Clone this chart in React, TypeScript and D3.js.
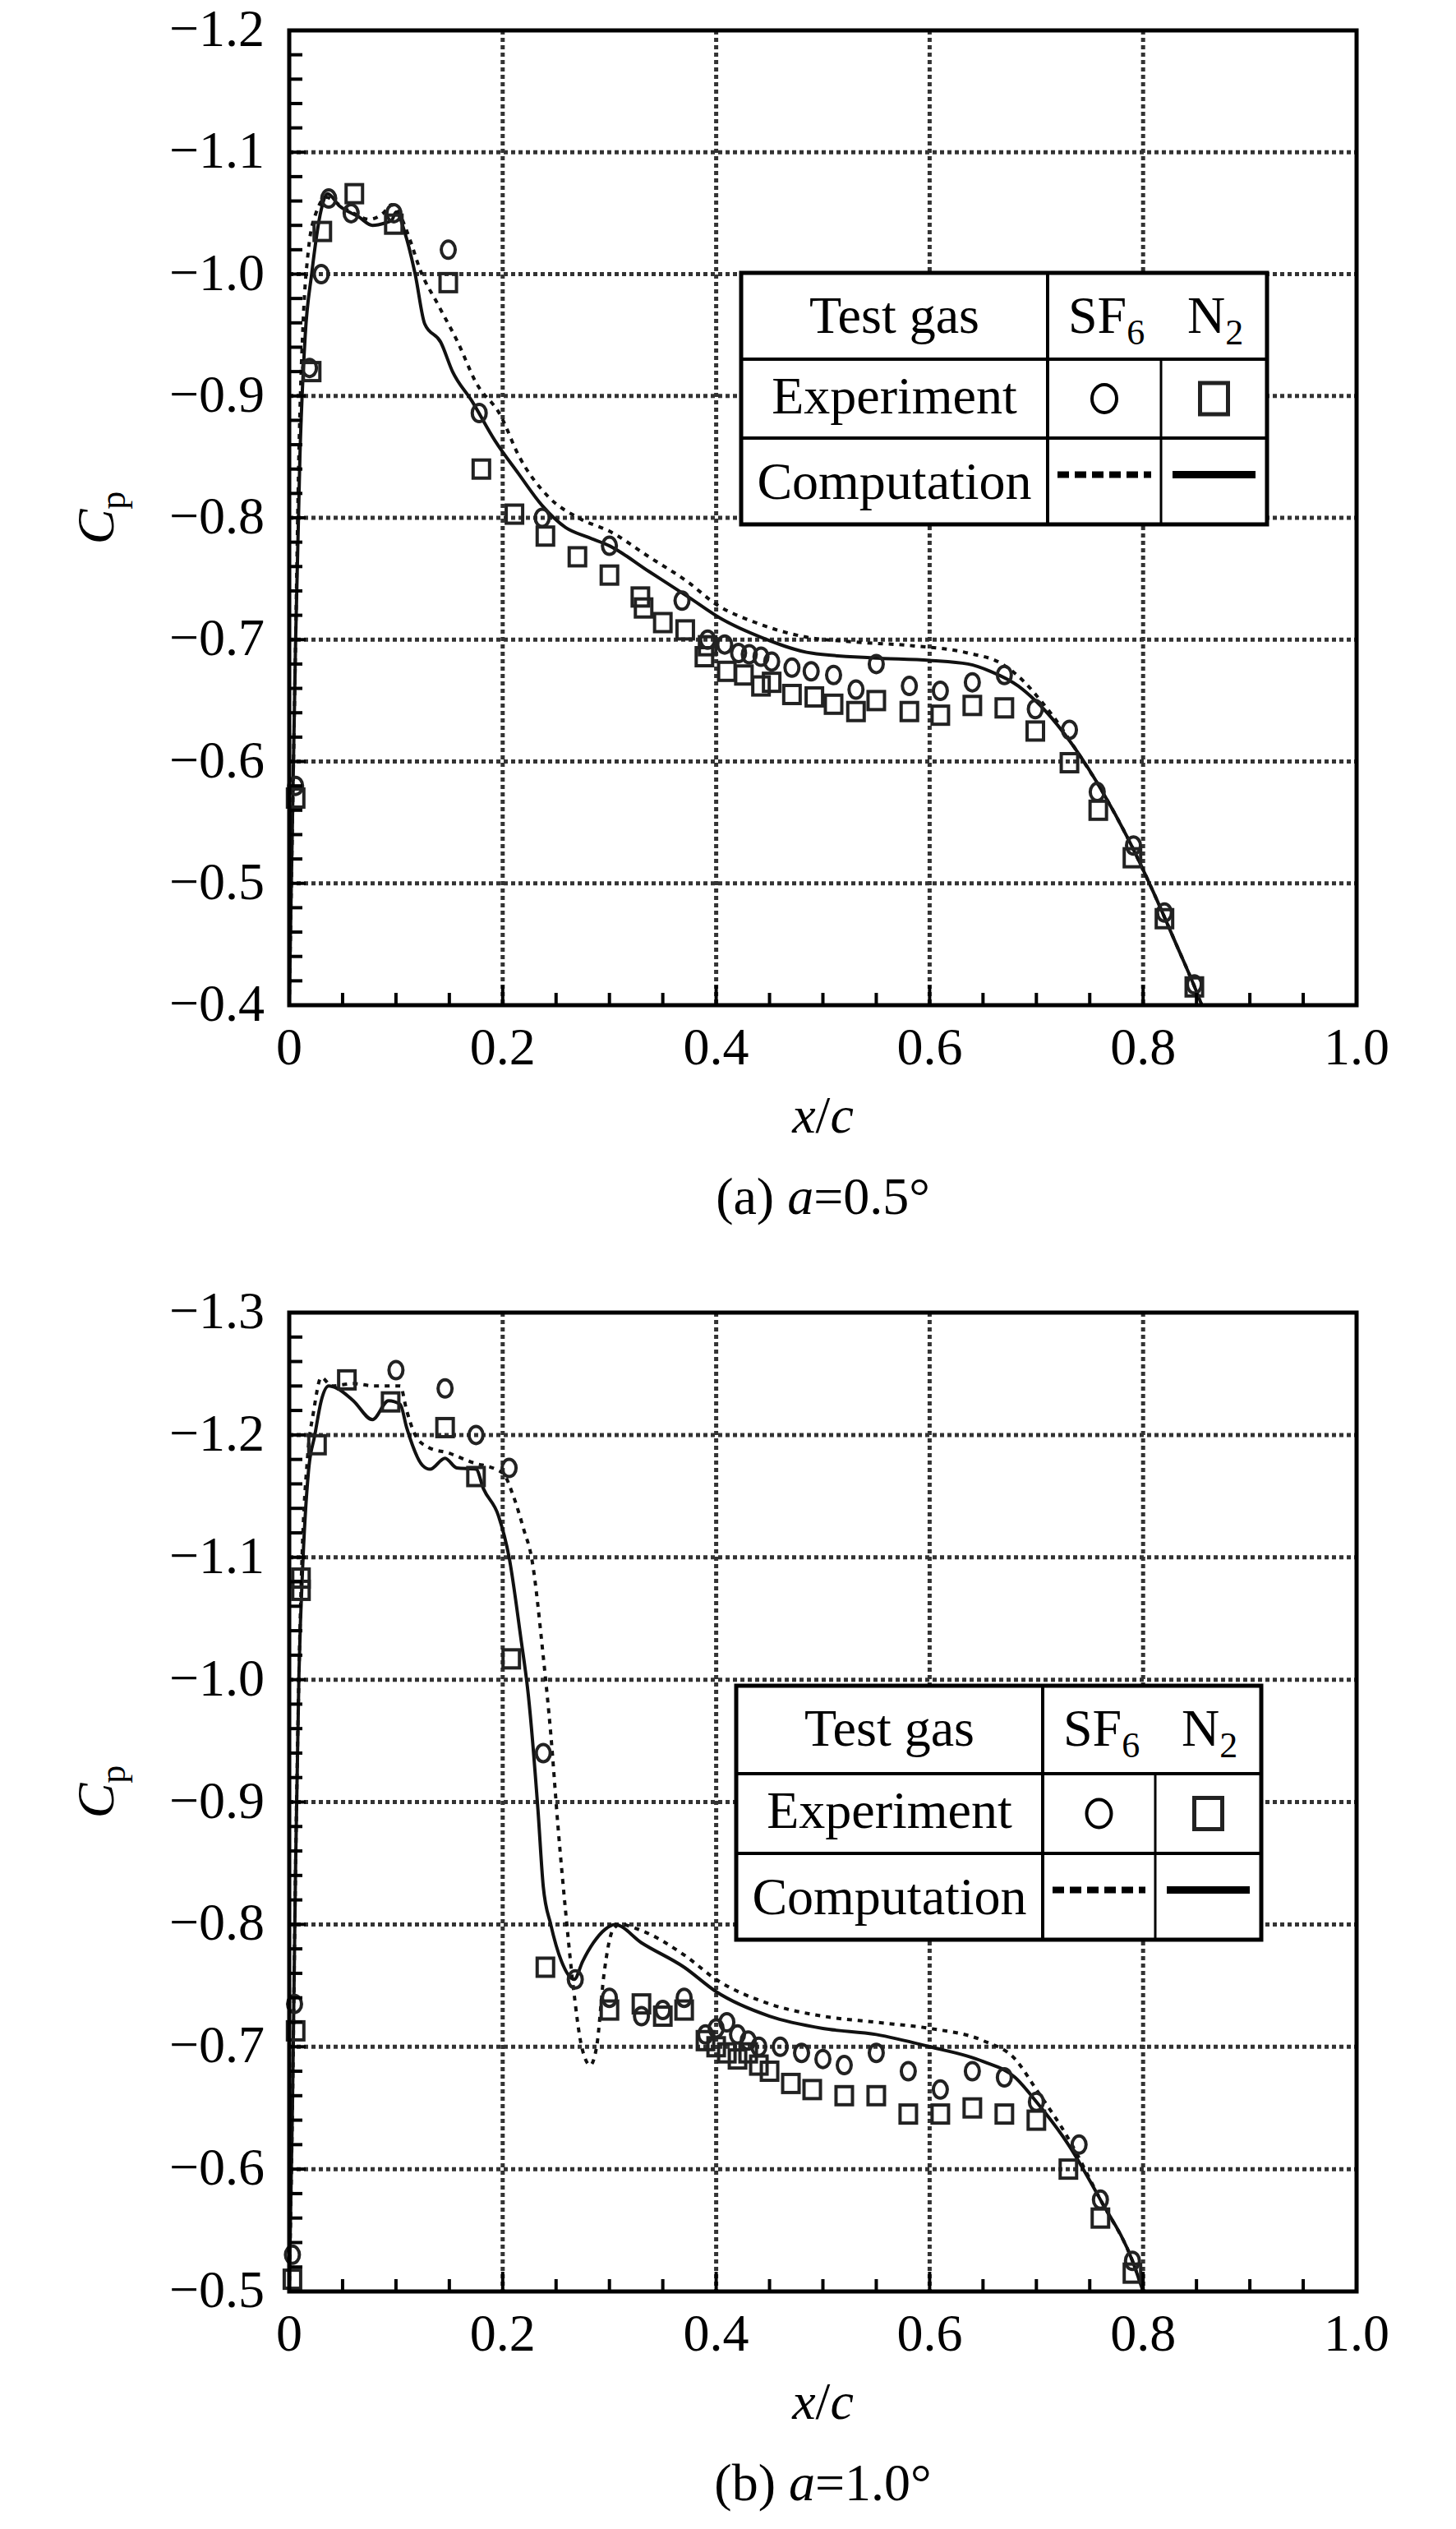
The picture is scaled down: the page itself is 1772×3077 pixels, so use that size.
import * as d3 from 'd3';
import React from 'react';

type Pt = [number, number];

// ---------- tick labels ----------
const xTickValues = [0, 0.2, 0.4, 0.6, 0.8, 1.0];
const xTickLabels = ['0', '0.2', '0.4', '0.6', '0.8', '1.0'];
const yTicksA = [-1.2, -1.1, -1.0, -0.9, -0.8, -0.7, -0.6, -0.5, -0.4];
const yTicksB = [-1.3, -1.2, -1.1, -1.0, -0.9, -0.8, -0.7, -0.6, -0.5];

// ---------- panel (a) a = 0.5 deg ----------
const sf6CompA: Pt[] = [
   [0.0, -0.4], [0.003, -0.55], [0.006, -0.7], [0.009, -0.85], [0.013, -0.96], [0.018, -1.02],
   [0.025, -1.05], [0.035, -1.063], [0.045, -1.058], [0.06, -1.05], [0.075, -1.045], [0.088, -1.05],
   [0.096, -1.057], [0.104, -1.048], [0.114, -1.026], [0.122, -1.005], [0.14, -0.974], [0.158, -0.944],
   [0.175, -0.911], [0.198, -0.884], [0.215, -0.851], [0.242, -0.818], [0.273, -0.799], [0.3, -0.789],
   [0.337, -0.768], [0.374, -0.747], [0.4, -0.729], [0.437, -0.714], [0.479, -0.703], [0.531, -0.698],
   [0.584, -0.695], [0.636, -0.689], [0.668, -0.68], [0.689, -0.665], [0.704, -0.65], [0.72, -0.632],
   [0.736, -0.611], [0.762, -0.575], [0.788, -0.533], [0.809, -0.494], [0.83, -0.452], [0.851, -0.409],
   [0.855, -0.4],
];
const n2CompA: Pt[] = [
   [0.0, -0.4], [0.003, -0.55], [0.006, -0.7], [0.01, -0.85], [0.015, -0.95], [0.021, -1.0],
   [0.03, -1.053], [0.036, -1.066], [0.047, -1.056], [0.065, -1.047], [0.078, -1.04], [0.09, -1.042],
   [0.096, -1.044], [0.1, -1.051], [0.109, -1.032], [0.118, -1.0], [0.127, -0.959], [0.142, -0.944],
   [0.153, -0.92], [0.171, -0.896], [0.193, -0.863], [0.215, -0.836], [0.237, -0.81], [0.259, -0.792],
   [0.28, -0.784], [0.3, -0.777], [0.337, -0.756], [0.374, -0.735], [0.405, -0.717], [0.442, -0.702],
   [0.489, -0.689], [0.547, -0.685], [0.6, -0.683], [0.636, -0.68], [0.657, -0.674], [0.683, -0.662],
   [0.699, -0.65], [0.715, -0.635], [0.736, -0.611], [0.762, -0.575], [0.788, -0.533], [0.809, -0.494],
   [0.83, -0.452], [0.851, -0.409], [0.855, -0.4],
];
const sf6ExpA: Pt[] = [
   [0.006, -0.58], [0.019, -0.923], [0.03, -1.0], [0.037, -1.062], [0.058, -1.05], [0.098, -1.05],
   [0.149, -1.02], [0.178, -0.886], [0.237, -0.8], [0.3, -0.777], [0.368, -0.732], [0.392, -0.7],
   [0.408, -0.696], [0.421, -0.689], [0.431, -0.688], [0.442, -0.686], [0.452, -0.682], [0.471, -0.677],
   [0.489, -0.674], [0.51, -0.671], [0.531, -0.659], [0.55, -0.68], [0.581, -0.662], [0.61, -0.658],
   [0.64, -0.665], [0.67, -0.671], [0.699, -0.643], [0.731, -0.626], [0.757, -0.575], [0.791, -0.531],
   [0.82, -0.476], [0.848, -0.417],
];
const n2ExpA: Pt[] = [
   [0.006, -0.57], [0.021, -0.92], [0.031, -1.035], [0.061, -1.066], [0.098, -1.041], [0.149, -0.993],
   [0.18, -0.84], [0.211, -0.803], [0.24, -0.785], [0.27, -0.768], [0.3, -0.753], [0.329, -0.735],
   [0.332, -0.726], [0.35, -0.714], [0.371, -0.708], [0.389, -0.686], [0.392, -0.695], [0.41, -0.674],
   [0.426, -0.671], [0.442, -0.662], [0.452, -0.665], [0.471, -0.655], [0.492, -0.653], [0.51, -0.647],
   [0.531, -0.641], [0.55, -0.65], [0.581, -0.641], [0.61, -0.638], [0.64, -0.646], [0.67, -0.644],
   [0.699, -0.625], [0.731, -0.599], [0.758, -0.56], [0.79, -0.521], [0.82, -0.471], [0.848, -0.415],
];

// ---------- panel (b) a = 1.0 deg ----------
const sf6CompB: Pt[] = [
   [0.0, -0.5], [0.003, -0.65], [0.006, -0.85], [0.009, -1.0], [0.012, -1.1], [0.017, -1.18],
   [0.023, -1.22], [0.03, -1.247], [0.04, -1.24], [0.06, -1.242], [0.08, -1.24], [0.104, -1.24],
   [0.11, -1.22], [0.118, -1.2], [0.13, -1.19], [0.15, -1.185], [0.17, -1.178], [0.2, -1.169],
   [0.21, -1.15], [0.22, -1.122], [0.227, -1.1], [0.238, -1.019], [0.245, -0.956], [0.252, -0.878],
   [0.259, -0.81], [0.266, -0.75], [0.274, -0.7], [0.282, -0.685], [0.288, -0.7], [0.295, -0.76],
   [0.303, -0.795], [0.31, -0.8], [0.33, -0.795], [0.37, -0.775], [0.4, -0.755], [0.45, -0.735],
   [0.5, -0.725], [0.55, -0.72], [0.6, -0.715], [0.65, -0.705], [0.68, -0.69], [0.7, -0.665],
   [0.73, -0.625], [0.76, -0.575], [0.79, -0.525], [0.8, -0.5],
];
const n2CompB: Pt[] = [
   [0.0, -0.5], [0.003, -0.65], [0.006, -0.85], [0.009, -1.0], [0.013, -1.1], [0.018, -1.17],
   [0.024, -1.2], [0.03, -1.228], [0.037, -1.24], [0.045, -1.238], [0.06, -1.228], [0.078, -1.2125],
   [0.093, -1.228], [0.104, -1.225], [0.11, -1.206], [0.125, -1.175], [0.132, -1.172], [0.146, -1.181],
   [0.157, -1.173], [0.175, -1.172], [0.182, -1.156], [0.196, -1.134], [0.206, -1.1], [0.217, -1.034],
   [0.224, -0.9875], [0.233, -0.894], [0.238, -0.831], [0.245, -0.8], [0.255, -0.77], [0.267, -0.755],
   [0.275, -0.77], [0.285, -0.785], [0.296, -0.796], [0.305, -0.8], [0.33, -0.785], [0.37, -0.765],
   [0.4, -0.745], [0.45, -0.725], [0.5, -0.715], [0.55, -0.71], [0.6, -0.7], [0.65, -0.688],
   [0.68, -0.675], [0.7, -0.655], [0.73, -0.62], [0.76, -0.575], [0.79, -0.525], [0.8, -0.5],
];
const sf6ExpB: Pt[] = [
   [0.003, -0.53], [0.005, -0.735], [0.1, -1.253], [0.146, -1.238], [0.175, -1.2], [0.206, -1.173],
   [0.238, -0.94], [0.268, -0.755], [0.3, -0.74], [0.33, -0.725], [0.35, -0.73], [0.37, -0.74],
   [0.39, -0.71], [0.4, -0.715], [0.41, -0.72], [0.42, -0.71], [0.43, -0.705], [0.44, -0.7],
   [0.46, -0.7], [0.48, -0.695], [0.5, -0.69], [0.52, -0.685], [0.55, -0.695], [0.58, -0.68],
   [0.61, -0.665], [0.64, -0.68], [0.67, -0.675], [0.7, -0.655], [0.74, -0.62], [0.76, -0.575],
   [0.79, -0.525],
];
const n2ExpB: Pt[] = [
   [0.003, -0.51], [0.006, -0.713], [0.011, -1.083], [0.011, -1.073], [0.026, -1.192], [0.054, -1.245],
   [0.095, -1.227], [0.146, -1.206], [0.175, -1.166], [0.208, -1.017], [0.24, -0.765], [0.3, -0.73],
   [0.33, -0.735], [0.35, -0.725], [0.37, -0.73], [0.39, -0.705], [0.4, -0.7], [0.41, -0.695],
   [0.42, -0.69], [0.43, -0.695], [0.44, -0.685], [0.45, -0.68], [0.47, -0.67], [0.49, -0.665],
   [0.52, -0.66], [0.55, -0.66], [0.58, -0.645], [0.61, -0.645], [0.64, -0.65], [0.67, -0.645],
   [0.7, -0.64], [0.73, -0.6], [0.76, -0.56], [0.79, -0.515],
];

const FONT = '"Liberation Serif", "Times New Roman", serif';
const FS = 64;

interface LegendBox {
   left: number;
   right: number;
   rows: number[]; // four horizontal lines
   col1: number;
   col2: number;
}

interface PanelProps {
   id: string;
   top: number;
   bottom: number;
   yTicks: number[];
   caption: string;
   angle: string;
   cpY: number;
   sf6Comp: Pt[];
   n2Comp: Pt[];
   sf6Exp: Pt[];
   n2Exp: Pt[];
   legend: LegendBox;
}

const LEFT = 352;
const RIGHT = 1651;

const Legend = ({ box }: { box: LegendBox }) => {
   const [r0, r1, r2, r3] = box.rows;
   const c0 = (box.left + box.col1) / 2;
   const cA = (box.col1 + box.col2) / 2;
   const cB = (box.col2 + box.right) / 2;
   const m1 = (r1 + r2) / 2;
   const m2 = (r2 + r3) / 2;
   return (
      <g fontFamily={FONT} fontSize={FS}>
         <rect x={box.left} y={r0} width={box.right - box.left} height={r3 - r0} fill="#fff" stroke="#000" strokeWidth={5} />
         <line x1={box.left} x2={box.right} y1={r1} y2={r1} stroke="#000" strokeWidth={4} />
         <line x1={box.left} x2={box.right} y1={r2} y2={r2} stroke="#000" strokeWidth={4} />
         <line x1={box.col1} x2={box.col1} y1={r0} y2={r3} stroke="#000" strokeWidth={4} />
         <line x1={box.col2} x2={box.col2} y1={r1} y2={r3} stroke="#000" strokeWidth={3} />
         <text x={c0} y={r0 + 73} textAnchor="middle">Test gas</text>
         <text x={box.col1 + 25} y={r0 + 73}>
            SF<tspan fontSize={44} dy={14}>6</tspan>
         </text>
         <text x={box.col2 + 32} y={r0 + 73}>
            N<tspan fontSize={44} dy={14}>2</tspan>
         </text>
         <text x={c0} y={r1 + 66} textAnchor="middle">Experiment</text>
         <text x={c0} y={r2 + 74} textAnchor="middle">Computation</text>
         <ellipse cx={cA} cy={m1} rx={15} ry={17} fill="none" stroke="#000" strokeWidth={4} />
         <rect x={cB - 17} y={m1 - 19} width={34} height={38} fill="none" stroke="#222" strokeWidth={5} />
         <line x1={box.col1 + 12} x2={box.col2 - 12} y1={m2 - 8} y2={m2 - 8} stroke="#000" strokeWidth={8} strokeDasharray="14 7" />
         <line x1={box.col2 + 14} x2={box.right - 14} y1={m2 - 8} y2={m2 - 8} stroke="#000" strokeWidth={9} />
      </g>
   );
};

const Panel = (p: PanelProps) => {
   const x = d3.scaleLinear().domain([0, 1]).range([LEFT, RIGHT]);
   const yMin = p.yTicks[0];
   const yMax = p.yTicks[p.yTicks.length - 1];
   const y = d3.scaleLinear().domain([yMin, yMax]).range([p.top, p.bottom]);

   const line = d3
      .line<Pt>()
      .x((d) => x(d[0]))
      .y((d) => y(d[1]))
      .curve(d3.curveMonotoneX);

   const xMinor = d3.range(0, 1.0001, 0.05);
   const yMinor = d3.range(0, Math.round((yMax - yMin) / 0.02) + 1).map((i) => yMin + i * 0.02);
   const clipId = `clip-${p.id}`;
   const centerX = (LEFT + RIGHT) / 2;

   return (
      <g>
         <defs>
            <clipPath id={clipId}>
               <rect x={LEFT} y={p.top} width={RIGHT - LEFT} height={p.bottom - p.top} />
            </clipPath>
         </defs>

         {/* dotted grid */}
         <g stroke="#333" strokeWidth={5} strokeDasharray="5 4">
            {xTickValues.slice(1, -1).map((v) => (
               <line key={`gx${v}`} x1={x(v)} x2={x(v)} y1={p.top} y2={p.bottom} />
            ))}
            {p.yTicks.slice(1, -1).map((v) => (
               <line key={`gy${v}`} x1={LEFT} x2={RIGHT} y1={y(v)} y2={y(v)} />
            ))}
         </g>

         {/* computed curves */}
         <g clipPath={`url(#${clipId})`} fill="none" stroke="#111">
            <path d={line(p.sf6Comp) ?? ''} strokeWidth={4} strokeDasharray="6 7" />
            <path d={line(p.n2Comp) ?? ''} strokeWidth={4} />
         </g>

         {/* experiment markers */}
         <g fill="none" stroke="#222" strokeWidth={4}>
            {p.sf6Exp.map((d, i) => (
               <ellipse key={`c${i}`} cx={x(d[0])} cy={y(d[1])} rx={8.5} ry={10.5} />
            ))}
            {p.n2Exp.map((d, i) => (
               <rect key={`s${i}`} x={x(d[0]) - 10} y={y(d[1]) - 11} width={20} height={22} />
            ))}
         </g>

         <Legend box={p.legend} />

         {/* frame */}
         <rect x={LEFT} y={p.top} width={RIGHT - LEFT} height={p.bottom - p.top} fill="none" stroke="#000" strokeWidth={5} />

         {/* ticks */}
         <g stroke="#000" strokeWidth={4}>
            {xMinor.map((v, i) => (
               <line key={`tx${i}`} x1={x(v)} x2={x(v)} y1={p.bottom} y2={p.bottom - (i % 4 === 0 ? 24 : 15)} />
            ))}
            {yMinor.map((v, i) => (
               <line key={`ty${i}`} x1={LEFT} x2={LEFT + (i % 5 === 0 ? 20 : 16)} y1={y(v)} y2={y(v)} />
            ))}
         </g>

         {/* tick labels */}
         <g fontFamily={FONT} fontSize={FS} fill="#000">
            {xTickValues.map((v, i) => (
               <text key={`lx${v}`} x={x(v)} y={p.bottom + 72} textAnchor="middle">
                  {xTickLabels[i]}
               </text>
            ))}
            {p.yTicks.map((v) => (
               <text key={`ly${v}`} x={322} y={y(v) + 19} textAnchor="end">
                  {d3.format('.1f')(v)}
               </text>
            ))}
            <text x={centerX} y={p.bottom + 155} textAnchor="middle">
               <tspan fontStyle="italic">x</tspan>/<tspan fontStyle="italic">c</tspan>
            </text>
            <text x={centerX} y={p.bottom + 254} textAnchor="middle">
               {p.caption} <tspan fontStyle="italic">a</tspan>={p.angle}
            </text>
            <text transform={`translate(138,${p.cpY}) rotate(-90)`} textAnchor="middle">
               <tspan fontStyle="italic">C</tspan>
               <tspan fontSize={44} dy={14}>p</tspan>
            </text>
         </g>
      </g>
   );
};

const App = () => {
   return (
      <svg
         width={1772}
         height={3077}
         viewBox="0 0 1772 3077"
         style={{ position: 'absolute', left: 0, top: 0, background: '#fff' }}
      >
         <rect x={0} y={0} width={1772} height={3077} fill="#fff" />
         <Panel
            id="a"
            top={37}
            bottom={1223}
            yTicks={yTicksA}
            caption="(a)"
            angle="0.5°"
            cpY={630}
            sf6Comp={sf6CompA}
            n2Comp={n2CompA}
            sf6Exp={sf6ExpA}
            n2Exp={n2ExpA}
            legend={{ left: 902, right: 1542, rows: [332, 437, 533, 638], col1: 1275, col2: 1413 }}
         />
         <Panel
            id="b"
            top={1597}
            bottom={2788}
            yTicks={yTicksB}
            caption="(b)"
            angle="1.0°"
            cpY={2180}
            sf6Comp={sf6CompB}
            n2Comp={n2CompB}
            sf6Exp={sf6ExpB}
            n2Exp={n2ExpB}
            legend={{ left: 896, right: 1535, rows: [2051, 2158, 2255, 2360], col1: 1269, col2: 1406 }}
         />
      </svg>
   );
};

export default App;
